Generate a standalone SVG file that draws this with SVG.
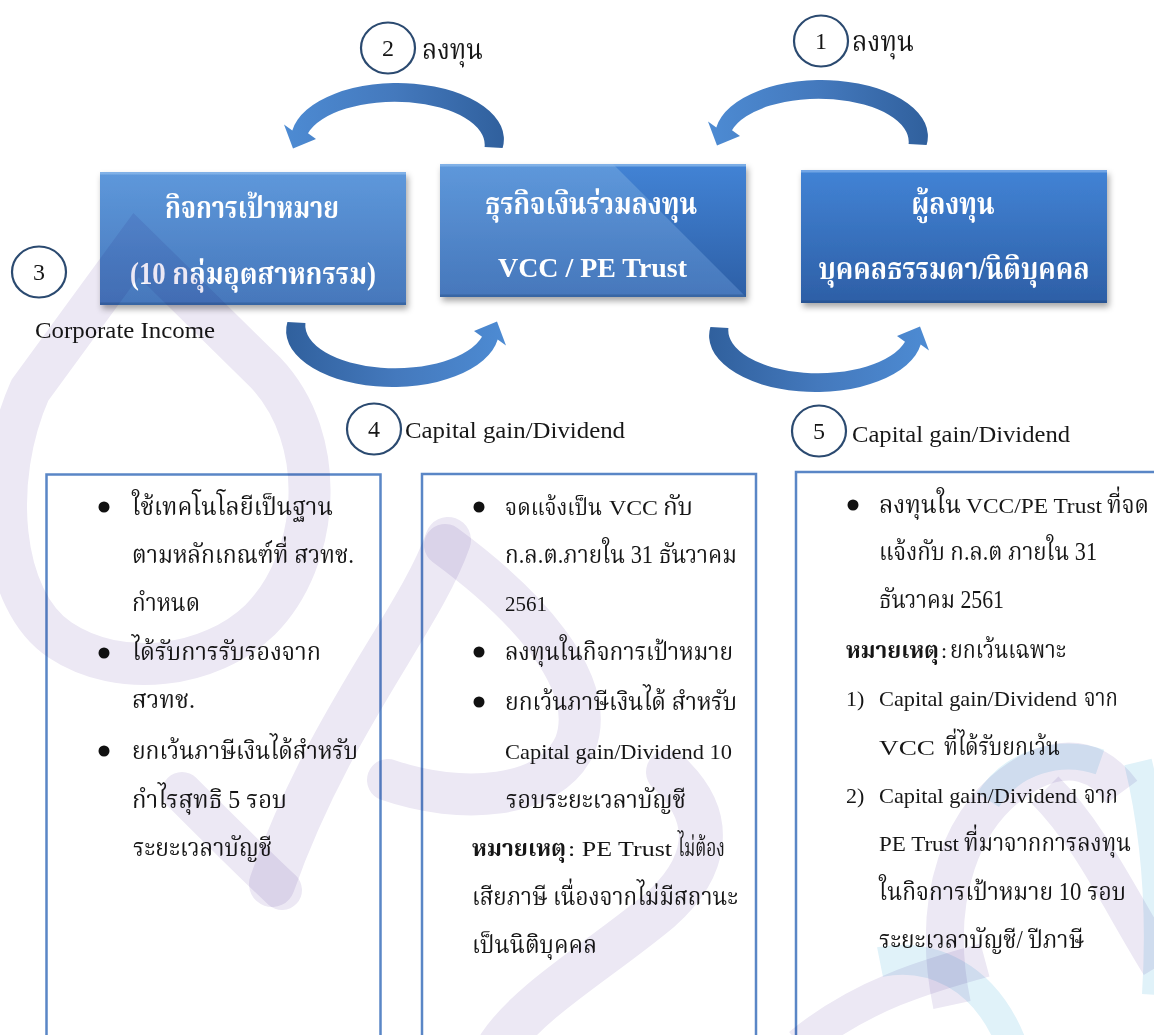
<svg xmlns="http://www.w3.org/2000/svg" xmlns:xlink="http://www.w3.org/1999/xlink" width="1154" height="1035" viewBox="0 0 1154 1035">
<style>
.t{font-family:'Liberation Serif','Noto Serif Thai','Noto Sans Thai','DejaVu Serif',serif;font-size:25px;fill:#161616}
.l{font-family:'Liberation Serif','Times New Roman',serif;font-size:22px;fill:#161616}
.lat{font-family:'Liberation Serif','Times New Roman',serif;font-size:24px;fill:#161616}
.title{font-family:'Liberation Serif','Noto Serif Thai','Noto Sans Thai','DejaVu Serif',serif;font-size:31px;font-weight:bold;fill:#ffffff;text-anchor:middle}
.tlat{font-family:'Liberation Serif','Times New Roman',serif;font-size:28px;font-weight:bold;fill:#ffffff}
.num{font-family:'Liberation Serif','Times New Roman',serif;font-size:24px;fill:#161616;text-anchor:middle}
.ring{fill:none;stroke:#2b4a70;stroke-width:2.2}
.tbox{fill:none;stroke:#5a86c6;stroke-width:2.5}
.wmP{fill:none;stroke:#ece8f4;mix-blend-mode:multiply}
.wmB{fill:none;stroke:#e0f2f9;mix-blend-mode:multiply}
.b{font-weight:bold}
.dot{fill:#111}
</style>
<defs>
<linearGradient id="gA" x1="0" y1="0" x2="0" y2="1">
<stop offset="0" stop-color="#5e98db"/><stop offset="1" stop-color="#4677bb"/>
</linearGradient>
<linearGradient id="gC" x1="0" y1="0" x2="0" y2="1">
<stop offset="0" stop-color="#4283d5"/><stop offset="1" stop-color="#2d5fa6"/>
</linearGradient>
<linearGradient id="gArr" x1="0" y1="0" x2="1" y2="0">
<stop offset="0" stop-color="#4d8bd3"/><stop offset="0.5" stop-color="#4479bd"/><stop offset="1" stop-color="#30609d"/>
</linearGradient>
<filter id="sh" x="-10%" y="-10%" width="125%" height="130%">
<feDropShadow dx="2" dy="4" stdDeviation="3" flood-color="#000" flood-opacity="0.35"/>
</filter>
<path id="arr" d="M502.6,148 A106,56 0 0,0 292.3,130.4 L284,124.5 L293,148.6 L316,139 L308,133.3 A90,43 0 0,1 484.6,147 Z"/>
</defs>
<rect width="1154" height="1035" fill="#ffffff"/>

<g id="connectors" fill="url(#gArr)">
<use xlink:href="#arr"/>
<use xlink:href="#arr" transform="translate(424,-3)"/>
<use xlink:href="#arr" transform="rotate(180 395 235)"/>
<use xlink:href="#arr" transform="translate(423,5) rotate(180 395 235)"/>
</g>

<g id="node-target">
<rect x="100" y="172" width="306" height="133" fill="url(#gA)" filter="url(#sh)"/>
<path d="M100,172 H406 V174.5 H100 Z" fill="#8ab8ea" opacity="0.8"/>
<path d="M100,302.5 H406 V305 H100 Z" fill="#2f5b95" opacity="0.6"/>
<text class="title" x="252" y="218" textLength="174" lengthAdjust="spacingAndGlyphs">กิจการเป้าหมาย</text>
<text class="title" x="253" y="284" textLength="246" lengthAdjust="spacingAndGlyphs">(10 กลุ่มอุตสาหกรรม)</text>
</g>

<g id="node-vcc">
<rect x="440" y="164" width="306" height="133" fill="url(#gA)" filter="url(#sh)"/>
<polygon points="613,164 746,164 746,297" fill="url(#gC)"/>
<path d="M440,164 H746 V166.5 H440 Z" fill="#8ab8ea" opacity="0.8"/>
<path d="M440,294.5 H746 V297 H440 Z" fill="#2f5b95" opacity="0.6"/>
<text class="title" x="591" y="214" textLength="212" lengthAdjust="spacingAndGlyphs">ธุรกิจเงินร่วมลงทุน</text>
<text class="tlat" x="498" y="277" textLength="189" lengthAdjust="spacingAndGlyphs">VCC / PE Trust</text>
</g>

<g id="node-investor">
<rect x="801" y="170" width="306" height="133" fill="url(#gC)" filter="url(#sh)"/>
<path d="M801,170 H1107 V172.5 H801 Z" fill="#7eaee8" opacity="0.8"/>
<path d="M801,300.5 H1107 V303 H801 Z" fill="#234d88" opacity="0.6"/>
<text class="title" x="953" y="214" textLength="83" lengthAdjust="spacingAndGlyphs">ผู้ลงทุน</text>
<text class="title" x="954" y="279" textLength="271" lengthAdjust="spacingAndGlyphs">บุคคลธรรมดา/นิติบุคคล</text>
</g>

<g id="label-1">
<ellipse class="ring" cx="821" cy="41" rx="27" ry="25.5"/>
<text class="num" x="821" y="49">1</text>
<text class="t" x="852" y="51" textLength="62" lengthAdjust="spacingAndGlyphs" style="font-size:28px">ลงทุน</text>
</g>
<g id="label-2">
<ellipse class="ring" cx="388" cy="48" rx="27" ry="25.5"/>
<text class="num" x="388" y="56">2</text>
<text class="t" x="422" y="59" textLength="61" lengthAdjust="spacingAndGlyphs" style="font-size:28px">ลงทุน</text>
</g>
<g id="label-3">
<ellipse class="ring" cx="39" cy="272" rx="27" ry="25.5"/>
<text class="num" x="39" y="280">3</text>
<text class="lat" x="35" y="338" textLength="180" lengthAdjust="spacingAndGlyphs">Corporate Income</text>
</g>
<g id="label-4">
<ellipse class="ring" cx="374" cy="429" rx="27" ry="25.5"/>
<text class="num" x="374" y="437">4</text>
<text class="lat" x="405" y="438" textLength="220" lengthAdjust="spacingAndGlyphs">Capital gain/Dividend</text>
</g>
<g id="label-5">
<ellipse class="ring" cx="819" cy="431" rx="27" ry="25.5"/>
<text class="num" x="819" y="439">5</text>
<text class="lat" x="852" y="442" textLength="218" lengthAdjust="spacingAndGlyphs">Capital gain/Dividend</text>
</g>

<g id="box-target-conditions">
<rect class="tbox" x="46.5" y="474.5" width="334" height="620"/>
<circle class="dot" cx="104" cy="507" r="5.5"/>
<circle class="dot" cx="104" cy="653" r="5.5"/>
<circle class="dot" cx="104" cy="751" r="5.5"/>
<text class="t" x="132" y="515" textLength="201" lengthAdjust="spacingAndGlyphs">ใช้เทคโนโลยีเป็นฐาน</text>
<text class="t" x="132" y="563" textLength="222" lengthAdjust="spacingAndGlyphs">ตามหลักเกณฑ์ที่ สวทช.</text>
<text class="t" x="132" y="611" textLength="68" lengthAdjust="spacingAndGlyphs">กำหนด</text>
<text class="t" x="132" y="660" textLength="189" lengthAdjust="spacingAndGlyphs">ได้รับการรับรองจาก</text>
<text class="t" x="132" y="708" textLength="63" lengthAdjust="spacingAndGlyphs">สวทช.</text>
<text class="t" x="132" y="759" textLength="226" lengthAdjust="spacingAndGlyphs">ยกเว้นภาษีเงินได้สำหรับ</text>
<text class="t" x="132" y="808" textLength="155" lengthAdjust="spacingAndGlyphs">กำไรสุทธิ 5 รอบ</text>
<text class="t" x="133" y="856" textLength="139" lengthAdjust="spacingAndGlyphs">ระยะเวลาบัญชี</text>
</g>

<g id="box-vcc-conditions">
<rect class="tbox" x="422" y="474" width="334" height="620"/>
<circle class="dot" cx="479" cy="507" r="5.5"/>
<circle class="dot" cx="479" cy="652" r="5.5"/>
<circle class="dot" cx="479" cy="702" r="5.5"/>
<text class="t" x="505" y="515" textLength="97" lengthAdjust="spacingAndGlyphs" style="font-size:23px">จดแจ้งเป็น</text>
<text class="l" x="609" y="515" textLength="49" lengthAdjust="spacingAndGlyphs">VCC</text>
<text class="t" x="663" y="515" textLength="30" lengthAdjust="spacingAndGlyphs">กับ</text>
<text class="t" x="505" y="563" textLength="232" lengthAdjust="spacingAndGlyphs">ก.ล.ต.ภายใน 31 ธันวาคม</text>
<text class="l" x="505" y="611" textLength="42" lengthAdjust="spacingAndGlyphs">2561</text>
<text class="t" x="505" y="660" textLength="228" lengthAdjust="spacingAndGlyphs">ลงทุนในกิจการเป้าหมาย</text>
<text class="t" x="505" y="710" textLength="232" lengthAdjust="spacingAndGlyphs">ยกเว้นภาษีเงินได้ สำหรับ</text>
<text class="l" x="505" y="759" textLength="227" lengthAdjust="spacingAndGlyphs">Capital gain/Dividend 10</text>
<text class="t" x="506" y="808" textLength="180" lengthAdjust="spacingAndGlyphs">รอบระยะเวลาบัญชี</text>
<text class="t b" x="472" y="856" textLength="94" lengthAdjust="spacingAndGlyphs" style="font-size:23px">หมายเหตุ</text>
<text class="l" x="568" y="856" textLength="104" lengthAdjust="spacingAndGlyphs">: PE Trust</text>
<text class="t" x="678" y="856" textLength="47" lengthAdjust="spacingAndGlyphs">ไม่ต้อง</text>
<text class="t" x="472" y="905" textLength="266" lengthAdjust="spacingAndGlyphs">เสียภาษี เนื่องจากไม่มีสถานะ</text>
<text class="t" x="472" y="953" textLength="125" lengthAdjust="spacingAndGlyphs">เป็นนิติบุคคล</text>
</g>

<g id="box-investor-conditions">
<rect class="tbox" x="796" y="472" width="420" height="620"/>
<circle class="dot" cx="853" cy="505" r="5.5"/>
<text class="t" x="879" y="513" textLength="82" lengthAdjust="spacingAndGlyphs">ลงทุนใน</text>
<text class="l" x="966" y="513" textLength="136" lengthAdjust="spacingAndGlyphs">VCC/PE Trust</text>
<text class="t" x="1107" y="513" textLength="42" lengthAdjust="spacingAndGlyphs">ที่จด</text>
<text class="t" x="879" y="560" textLength="218" lengthAdjust="spacingAndGlyphs">แจ้งกับ ก.ล.ต ภายใน 31</text>
<text class="t" x="879" y="608" textLength="125" lengthAdjust="spacingAndGlyphs">ธันวาคม 2561</text>
<text class="t b" x="846" y="658" textLength="93" lengthAdjust="spacingAndGlyphs" style="font-size:23px">หมายเหตุ</text>
<text class="l" x="941" y="658">:</text>
<text class="t" x="950" y="658" textLength="116" lengthAdjust="spacingAndGlyphs">ยกเว้นเฉพาะ</text>
<text class="l" x="846" y="706">1)</text>
<text class="l" x="879" y="706" textLength="198" lengthAdjust="spacingAndGlyphs">Capital gain/Dividend</text>
<text class="t" x="1084" y="706" textLength="34" lengthAdjust="spacingAndGlyphs">จาก</text>
<text class="l" x="879" y="755" textLength="56" lengthAdjust="spacingAndGlyphs">VCC</text>
<text class="t" x="944" y="755" textLength="116" lengthAdjust="spacingAndGlyphs">ที่ได้รับยกเว้น</text>
<text class="l" x="846" y="803">2)</text>
<text class="l" x="879" y="803" textLength="198" lengthAdjust="spacingAndGlyphs">Capital gain/Dividend</text>
<text class="t" x="1084" y="803" textLength="34" lengthAdjust="spacingAndGlyphs">จาก</text>
<text class="l" x="879" y="851" textLength="80" lengthAdjust="spacingAndGlyphs">PE Trust</text>
<text class="t" x="964" y="851" textLength="167" lengthAdjust="spacingAndGlyphs">ที่มาจากการลงทุน</text>
<text class="t" x="879" y="900" textLength="247" lengthAdjust="spacingAndGlyphs">ในกิจการเป้าหมาย 10 รอบ</text>
<text class="t" x="879" y="948" textLength="205" lengthAdjust="spacingAndGlyphs">ระยะเวลาบัญชี/ ปีภาษี</text>
</g>

<g id="watermark">
<path class="wmP" stroke-width="42" stroke-linejoin="miter" d="M136,245 L265,372 C330,440 320,560 260,620 C210,668 120,680 60,640 C0,600 -10,480 30,390 Z"/>
<path class="wmP" stroke-width="46" stroke-linecap="round" d="M448,540 C420,620 330,720 272,884"/>
<path class="wmP" stroke-width="40" stroke-linecap="round" d="M182,792 C220,830 255,865 282,890"/>
<path class="wmP" stroke-width="42" stroke-linecap="round" d="M445,545 C520,600 600,680 575,745 C550,800 460,805 388,780"/>
<path class="wmP" stroke-width="44" stroke-linecap="round" d="M668,772 C720,820 705,870 660,910 C600,960 530,1000 500,1045"/>
<path class="wmP" stroke-width="34" d="M800,1045 C860,995 930,975 985,960"/>
<path class="wmB" stroke-width="30" d="M880,962 C930,952 985,975 1012,1045"/>
<path class="wmP" stroke-width="38" d="M952,1005 C930,900 960,810 1030,772 C1070,752 1100,762 1122,792"/>
<path class="wmB" stroke-width="26" d="M988,800 C1012,762 1060,748 1100,762"/>
<path class="wmP" stroke-width="38" d="M1045,790 C1090,835 1120,900 1160,965"/>
<path class="wmB" stroke-width="28" d="M1138,762 C1152,820 1162,900 1156,995"/>
</g>
</svg>
